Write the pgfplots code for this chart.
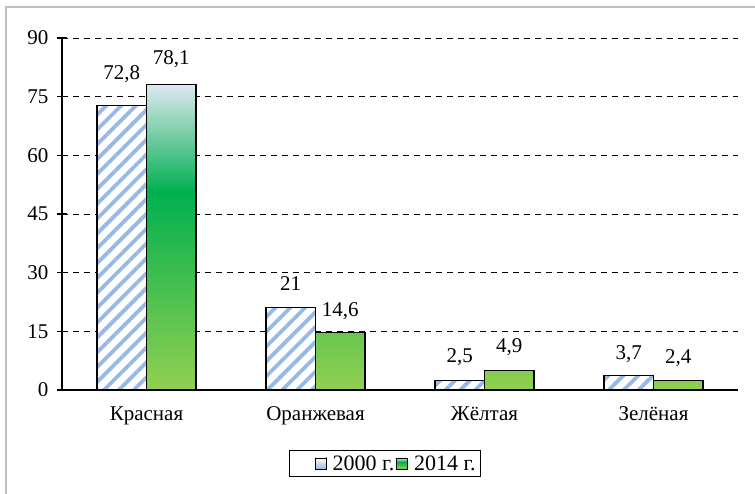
\documentclass[border=0pt]{standalone}
\usepackage{fontspec}
\setmainfont{Liberation Serif}
\usepackage{pgfplots}
\pgfplotsset{compat=1.18}
\usetikzlibrary{patterns.meta}
\definecolor{stripe}{RGB}{150,185,230}
\definecolor{gtop}{RGB}{222,232,242}
\definecolor{gmid}{RGB}{0,176,80}
\definecolor{gbot}{RGB}{146,208,80}
\pgfdeclareverticalshading{greengrad}{100bp}{color(0bp)=(gbot); color(25bp)=(gbot); color(57.5bp)=(gmid); color(75bp)=(gtop); color(100bp)=(gtop)}
\newcommand{\chfont}{\fontsize{21bp}{24bp}\selectfont}
\newcommand{\lgfont}{\fontsize{22bp}{25bp}\selectfont}
\begin{document}
\begin{tikzpicture}[font=\chfont]
\useasboundingbox (0,0) rectangle (755bp,494bp);
\draw[gray!50, line width=1.5bp] (6bp,-10bp) -- (6bp,487bp) -- (765bp,487bp);
\begin{axis}[
  at={(62bp,104bp)}, anchor=south west,
  scale only axis, width=676bp, height=352bp,
  xmin=-0.5, xmax=3.5, ymin=0, ymax=90,
  axis x line*=bottom, axis y line*=left,
  axis line style={line width=1.5bp, black},
  ytick={0,15,...,90},
  ymajorgrids,
  grid style={black, line width=1bp, dash pattern=on 6bp off 5bp},
  tick align=center,
  major tick length=10bp,
  ytick style={line width=1.2bp, black},
  xtick={0,1,2,3},
  xticklabels={Красная,Оранжевая,Жёлтая,Зелёная},
  xtick style={draw=none},
  extra x ticks={0.5,1.5,2.5},
  extra x tick labels={},
  extra x tick style={tick align=outside, major tick length=6bp, tick style={line width=1.2bp, black, draw=black}},
  /pgf/number format/assume math mode=true,
  ticklabel style={font=\chfont},
  yticklabel style={xshift=-5bp},
  xticklabel style={yshift=-8bp},
  legend style={at={(0.478,-0.210)}, anchor=center, legend columns=2, draw=black, line width=1bp,
    font=\lgfont, inner xsep=3bp, inner ysep=3bp,
    /tikz/every odd column/.append style={column sep=4bp}},
  legend cell align=left,
]
\addplot[ybar, bar width=0.293, bar shift=-0.1465, draw=black, line width=1.2bp,
  preaction={fill=white},
  pattern={Lines[angle=45,distance=10.5bp,line width=3.8bp]}, pattern color=stripe,
  legend image code/.code={\path (-22bp,0bp); \draw[line width=0.8bp, black, top color=white, bottom color=stripe] (0bp,-5bp) rectangle (11bp,6bp);}]
  coordinates {(0,72.8) (1,21) (2,2.5) (3,3.7)};
\addlegendentry{2000 г.}
\addplot[ybar, bar width=0.293, bar shift=0.1465, draw=black, line width=1.2bp,
  shade, shading=greengrad,
  legend image code/.code={\draw[line width=0.8bp, black, shade, shading=greengrad] (0bp,-5bp) rectangle (11bp,6bp);}]
  coordinates {(0,78.1) (1,14.6) (2,4.9) (3,2.4)};
\addlegendentry{2014 г.}
\node at (axis cs:-0.1465,80.7) {72,8};
\node at (axis cs:0.1465,84.6) {78,1};
\node at (axis cs:0.8535,27.1) {21};
\node at (axis cs:1.1465,20.2) {14,6};
\node at (axis cs:1.8535,8.4) {2,5};
\node at (axis cs:2.1465,11.0) {4,9};
\node at (axis cs:2.8535,9.2) {3,7};
\node at (axis cs:3.1465,8.2) {2,4};
\end{axis}
\end{tikzpicture}
\end{document}
